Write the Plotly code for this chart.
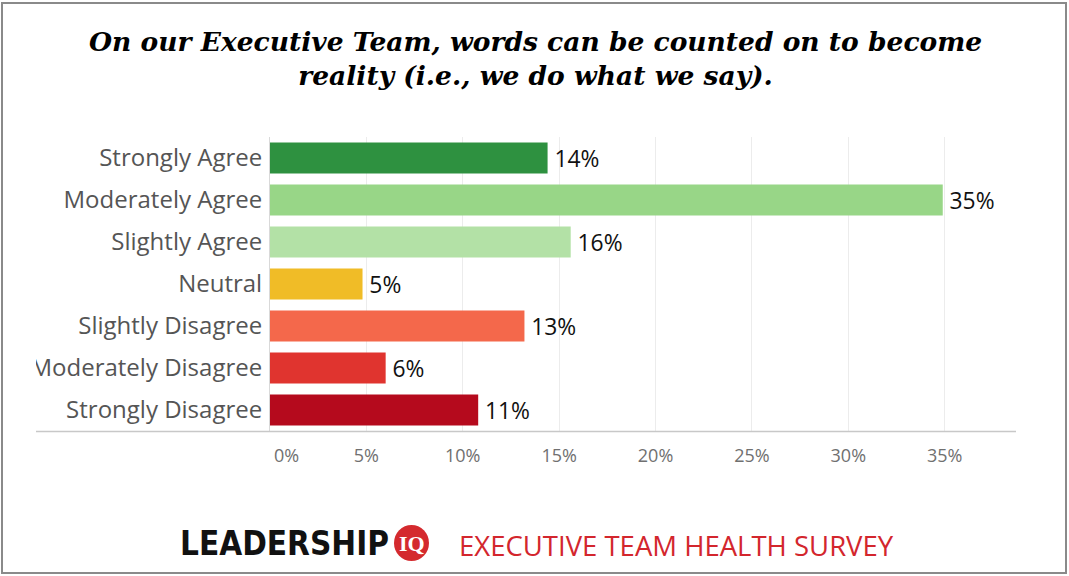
import plotly.graph_objects as go

categories = ["Strongly Agree", "Moderately Agree", "Slightly Agree", "Neutral",
              "Slightly Disagree", "Moderately Disagree", "Strongly Disagree"]
values = [14.4, 34.9, 15.6, 4.8, 13.2, 6.0, 10.8]
colors = ["#2e9140", "#98d687", "#b3e1a6", "#f0bc27", "#f4684b", "#e0342f", "#b50a1d"]
tick_vals = [0, 5, 10, 15, 20, 25, 30, 35]
tick_text = ["", "5%", "10%", "15%", "20%", "25%", "30%", "35%"]
title_text = "On our Executive Team, words can be counted on to become<br>reality (i.e., we do what we say)."
footer_brand = "LEADERSHIP"
footer_badge = "IQ"
footer_text = "EXECUTIVE TEAM HEALTH SURVEY"

W, H = 1069, 576
L, R, T, B = 270, 1016, 137, 431


def px(x):
    return (x - L) / (R - L)


def py(y):
    return (B - y) / (B - T)


fig = go.Figure(go.Bar(
    y=categories, x=values, orientation="h",
    marker=dict(color=colors, line=dict(width=0)),
    width=0.74,
    texttemplate="\u2009%{x:.0f}%", textposition="outside",
    textfont=dict(family="Open Sans", size=25, color="#111"),
    cliponaxis=False, hoverinfo="skip",
))

fig.update_layout(
    width=W, height=H,
    margin=dict(l=L, r=W - R, t=T, b=H - B, autoexpand=False),
    paper_bgcolor="white", plot_bgcolor="white",
    showlegend=False,
    xaxis=dict(range=[0, 38.7], tickvals=tick_vals, ticktext=tick_text,
               showgrid=True, gridcolor="#ececec", gridwidth=1, zeroline=False,
               showline=False, ticks="", ticklabelstandoff=12,
               tickfont=dict(family="Open Sans", size=18, color="#707070")),
    yaxis=dict(autorange="reversed", showline=True, linecolor="#d9d9d9", linewidth=1,
               showgrid=False, zeroline=False, ticks="", ticklabelstandoff=2,
               tickfont=dict(family="Open Sans", size=24, color="#555")),
)

shapes = [
    dict(type="line", xref="paper", yref="paper", x0=px(36), x1=px(1016), y0=py(431.5), y1=py(431.5),
         line=dict(color="#c8c8c8", width=1.5), layer="above"),
    dict(type="rect", xref="paper", yref="paper", x0=px(-5), x1=px(36), y0=py(600), y1=py(-5),
         fillcolor="white", line=dict(width=0), layer="above"),
    dict(type="rect", xref="paper", yref="paper", x0=px(2), x1=px(1066), y0=py(573), y1=py(3),
         fillcolor="rgba(0,0,0,0)", line=dict(color="#8a8a8a", width=2), layer="above"),
    dict(type="circle", xref="paper", yref="paper", x0=px(394), x1=px(429), y0=py(561), y1=py(525),
         fillcolor="#d42a2e", line=dict(width=0), layer="above"),
]
fig.update_layout(shapes=shapes)

ann = [
    dict(text="<b><i>" + title_text + "</i></b>", xref="paper", yref="paper",
         x=px(535), y=py(59), xanchor="center", yanchor="middle", showarrow=False,
         font=dict(family="DejaVu Serif", size=26.5, color="#000")),
    dict(text="0%", xref="x", yref="paper", x=0, xshift=16, y=py(455), yanchor="middle",
         showarrow=False, font=dict(family="Open Sans", size=18, color="#707070")),
    dict(text="<b>" + footer_brand + "</b>", xref="paper", yref="paper", x=px(391), y=py(543),
         xanchor="right", yanchor="middle", showarrow=False,
         font=dict(family="Liberation Sans Narrow, DejaVu Sans Condensed, Arial Narrow", size=33, color="#111")),
    dict(text="<b>" + footer_badge + "</b>", xref="paper", yref="paper", x=px(411.5), y=py(543),
         xanchor="center", yanchor="middle", showarrow=False,
         font=dict(family="Liberation Serif", size=22, color="white")),
    dict(text=footer_text, xref="paper", yref="paper", x=px(457), y=py(545),
         xanchor="left", yanchor="middle", showarrow=False,
         font=dict(family="Open Sans", size=27.5, color="#d3262d")),
]
fig.update_layout(annotations=ann)

fig.write_html("out.html", config={"displayModeBar": False},
               post_script="document.body.style.margin='0';document.body.style.overflow='hidden';")
